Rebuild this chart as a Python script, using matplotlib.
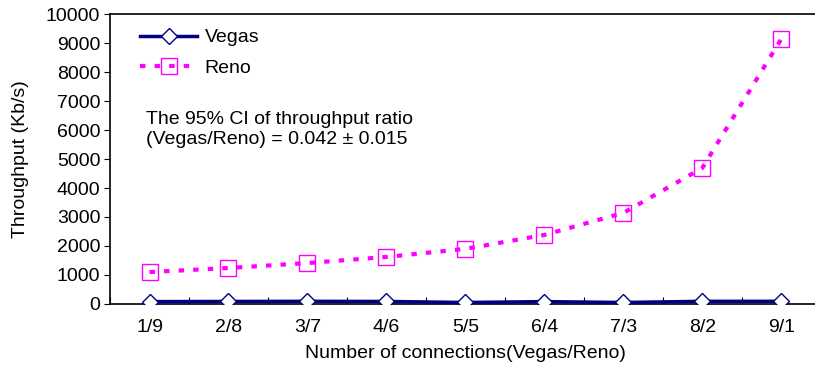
import matplotlib
matplotlib.use("Agg")
import matplotlib.pyplot as plt
import numpy as np

plt.rcParams['font.family'] = ['Liberation Sans', 'DejaVu Sans']

categories = ["1/9", "2/8", "3/7", "4/6", "5/5", "6/4", "7/3", "8/2", "9/1"]
vegas = [80, 85, 90, 85, 50, 80, 50, 90, 90]
reno = [1100, 1240, 1410, 1620, 1900, 2380, 3140, 4690, 9140]

FS = 14

fig = plt.figure(figsize=(8.15, 3.72), dpi=100)
ax = fig.add_axes([0.135, 0.183, 0.872, 0.779])

x = np.arange(len(categories))
ax.plot(x, vegas, color="#000080", lw=2.5, marker="D", markersize=8,
        markerfacecolor="white", markeredgecolor="#000080", markeredgewidth=1.0,
        label="Vegas", zorder=3)
ax.plot(x, reno, color="#ff00ff", lw=3, linestyle=(0, (1.3, 2.2)), marker="s",
        markersize=11, markerfacecolor="none", markeredgecolor="#ff00ff",
        markeredgewidth=1.0, label="Reno", zorder=2)

ax.set_xlim(-0.5, len(categories) - 0.5)
ax.set_ylim(0, 10000)
ax.set_yticks(np.arange(0, 10001, 1000))
ax.set_xticks(x)
ax.set_xticklabels(categories)
ax.set_xticks(np.arange(-0.5, len(categories), 1.0), minor=True)
ax.tick_params(axis="x", which="major", length=0, pad=11, labelsize=FS)
ax.tick_params(axis="x", which="minor", direction="in", length=5, width=0.8)
ax.tick_params(axis="y", direction="out", length=4, width=0.8, labelsize=FS, pad=3)

for s in ax.spines.values():
    s.set_linewidth(1.2)

ax.set_ylabel("Throughput (Kb/s)", fontsize=FS, labelpad=12)
ax.set_xlabel("Number of connections(Vegas/Reno)", fontsize=FS, labelpad=6)

leg = ax.legend(loc="upper left", frameon=False, fontsize=FS,
                handlelength=2.9, handletextpad=0.4, labelspacing=0.65,
                bbox_to_anchor=(0.018, 1.01))

ax.text(0.05, 0.665, "The 95% CI of throughput ratio\n(Vegas/Reno) = 0.042 \u00b1 0.015",
        transform=ax.transAxes, fontsize=FS, va="top", ha="left", linespacing=1.2)

fig.savefig("out.png", dpi=100)
